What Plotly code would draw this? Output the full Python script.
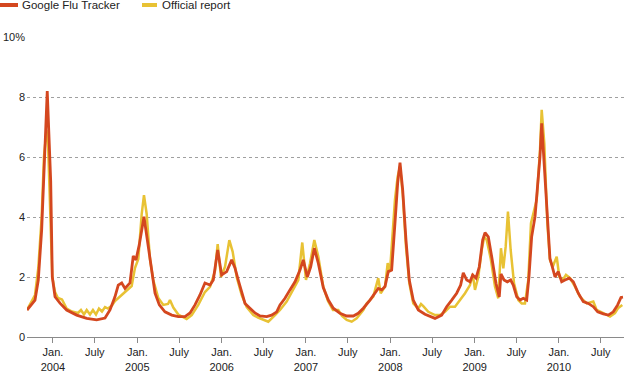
import plotly.graph_objects as go

# ---- data (decimal years, % of visits) ----
google_t = [2003.692, 2003.787, 2003.826, 2003.866, 2003.905, 2003.932, 2003.973, 2003.992,
            2004.024, 2004.083, 2004.162, 2004.281, 2004.400, 2004.518, 2004.617, 2004.676,
            2004.735, 2004.774, 2004.815, 2004.854, 2004.913, 2004.952, 2004.984, 2005.023,
            2005.079, 2005.130, 2005.170, 2005.210, 2005.261, 2005.328, 2005.408, 2005.486,
            2005.565, 2005.625, 2005.684, 2005.743, 2005.802, 2005.862, 2005.901, 2005.953,
            2006.000, 2006.060, 2006.119, 2006.158, 2006.197, 2006.238, 2006.277, 2006.336,
            2006.395, 2006.455, 2006.534, 2006.593, 2006.653, 2006.692, 2006.751, 2006.810,
            2006.870, 2006.929, 2006.968, 2007.016, 2007.056, 2007.099, 2007.146, 2007.205,
            2007.237, 2007.265, 2007.324, 2007.403, 2007.483, 2007.561, 2007.620, 2007.680,
            2007.759, 2007.818, 2007.857, 2007.898, 2007.937, 2007.976, 2008.016, 2008.055,
            2008.087, 2008.115, 2008.147, 2008.186, 2008.225, 2008.272, 2008.332, 2008.411,
            2008.470, 2008.530, 2008.609, 2008.668, 2008.728, 2008.787, 2008.834, 2008.865,
            2008.906, 2008.945, 2008.977, 2009.016, 2009.055, 2009.095, 2009.123, 2009.162,
            2009.202, 2009.253, 2009.292, 2009.312, 2009.348, 2009.387, 2009.427, 2009.458,
            2009.499, 2009.538, 2009.577, 2009.617, 2009.644, 2009.676, 2009.716, 2009.748,
            2009.775, 2009.795, 2009.826, 2009.866, 2009.893, 2009.921, 2009.953, 2009.992,
            2010.032, 2010.071, 2010.122, 2010.170, 2010.229, 2010.288, 2010.348, 2010.407,
            2010.459, 2010.526, 2010.585, 2010.644, 2010.696, 2010.735, 2010.759]
google_v = [0.90, 1.23, 1.90, 3.57, 6.30, 8.20, 5.20, 2.00,
            1.34, 1.13, 0.90, 0.73, 0.62, 0.57, 0.63, 0.90,
            1.34, 1.73, 1.80, 1.62, 1.80, 2.70, 2.57, 3.07,
            4.01, 3.00, 2.13, 1.46, 1.07, 0.84, 0.73, 0.68,
            0.68, 0.80, 1.07, 1.40, 1.80, 1.73, 1.90, 2.90,
            2.07, 2.18, 2.57, 2.30, 1.90, 1.46, 1.12, 0.96,
            0.80, 0.70, 0.68, 0.73, 0.84, 1.07, 1.29, 1.57,
            1.84, 2.23, 2.57, 2.00, 2.34, 2.96, 2.46, 1.65,
            1.40, 1.23, 0.96, 0.79, 0.70, 0.70, 0.79, 0.96,
            1.23, 1.46, 1.62, 1.57, 1.68, 2.18, 2.23, 3.79,
            5.12, 5.81, 4.90, 3.23, 1.90, 1.23, 0.90, 0.76,
            0.68, 0.62, 0.73, 1.01, 1.23, 1.46, 1.73, 2.14,
            1.90, 1.84, 2.07, 1.96, 2.34, 3.23, 3.48, 3.34,
            2.68, 1.79, 1.34, 2.10, 1.90, 1.84, 1.90, 1.73,
            1.34, 1.23, 1.29, 1.23, 2.00, 3.34, 4.01, 5.12,
            6.01, 7.12, 5.57, 3.79, 2.62, 2.34, 2.00, 2.18,
            1.84, 1.90, 1.96, 1.84, 1.46, 1.18, 1.12, 1.01,
            0.84, 0.77, 0.73, 0.84, 1.07, 1.32, 1.33]

official_t = [2003.692, 2003.787, 2003.826, 2003.866, 2003.893, 2003.923, 2003.941, 2003.973,
              2003.992, 2004.024, 2004.059, 2004.107, 2004.162, 2004.225, 2004.296, 2004.332,
              2004.368, 2004.400, 2004.439, 2004.474, 2004.510, 2004.545, 2004.581, 2004.617,
              2004.652, 2004.700, 2004.735, 2004.795, 2004.874, 2004.933, 2004.972, 2005.012,
              2005.052, 2005.079, 2005.111, 2005.150, 2005.189, 2005.249, 2005.308, 2005.364,
              2005.387, 2005.427, 2005.486, 2005.585, 2005.645, 2005.723, 2005.802, 2005.862,
              2005.921, 2005.953, 2005.992, 2006.040, 2006.091, 2006.131, 2006.178, 2006.238,
              2006.297, 2006.375, 2006.431, 2006.494, 2006.553, 2006.633, 2006.692, 2006.771,
              2006.850, 2006.909, 2006.956, 2007.000, 2007.048, 2007.099, 2007.146, 2007.205,
              2007.261, 2007.320, 2007.383, 2007.427, 2007.483, 2007.542, 2007.601, 2007.680,
              2007.720, 2007.798, 2007.857, 2007.886, 2007.937, 2007.969, 2007.996, 2008.055,
              2008.087, 2008.115, 2008.147, 2008.186, 2008.225, 2008.272, 2008.332, 2008.364,
              2008.391, 2008.450, 2008.530, 2008.589, 2008.648, 2008.708, 2008.767, 2008.826,
              2008.886, 2008.945, 2008.977, 2009.004, 2009.043, 2009.084, 2009.114, 2009.143,
              2009.190, 2009.241, 2009.280, 2009.312, 2009.340, 2009.368, 2009.395, 2009.427,
              2009.467, 2009.518, 2009.558, 2009.597, 2009.636, 2009.668, 2009.695, 2009.736,
              2009.775, 2009.795, 2009.826, 2009.862, 2009.893, 2009.926, 2009.973, 2010.004,
              2010.044, 2010.083, 2010.131, 2010.190, 2010.249, 2010.329, 2010.407, 2010.447,
              2010.526, 2010.605, 2010.664, 2010.703, 2010.751]
official_v = [0.90, 1.40, 2.30, 4.00, 6.00, 6.90, 6.50, 4.00,
              2.00, 1.50, 1.30, 1.25, 0.95, 0.85, 0.80, 0.90,
              0.75, 0.90, 0.75, 0.90, 0.75, 0.95, 0.85, 1.00,
              0.95, 1.05, 1.20, 1.35, 1.55, 1.70, 2.30, 2.60,
              4.10, 4.73, 4.10, 2.60, 1.90, 1.30, 1.07, 1.10,
              1.23, 0.98, 0.75, 0.60, 0.73, 1.07, 1.50, 1.67,
              2.20, 3.10, 2.00, 2.34, 3.23, 2.84, 2.00, 1.40,
              1.00, 0.73, 0.65, 0.57, 0.51, 0.73, 0.90, 1.18,
              1.57, 1.90, 3.15, 1.90, 2.46, 3.23, 2.68, 1.68,
              1.20, 0.90, 0.90, 0.70, 0.57, 0.51, 0.62, 0.90,
              1.12, 1.35, 1.96, 1.46, 1.68, 2.46, 2.18, 4.57,
              5.34, 5.68, 4.78, 3.00, 1.80, 1.12, 0.95, 1.10,
              1.03, 0.84, 0.73, 0.73, 0.84, 1.01, 1.01, 1.23,
              1.46, 1.73, 2.10, 1.57, 2.00, 2.90, 3.34, 3.23,
              2.62, 1.68, 1.29, 2.96, 2.29, 3.01, 4.18, 2.90,
              1.79, 1.23, 1.12, 1.12, 1.90, 3.79, 4.07, 4.57,
              6.23, 7.57, 6.46, 3.79, 2.57, 2.34, 2.68, 2.00,
              1.90, 2.07, 1.96, 1.68, 1.34, 1.12, 1.18, 0.90,
              0.80, 0.68, 0.80, 0.97, 1.07]

tick_vals = [2004.0, 2004.496, 2005.0, 2005.496, 2006.0, 2006.496, 2007.0, 2007.496,
             2008.0, 2008.496, 2009.0, 2009.496, 2010.0, 2010.496]
tick_text = ["Jan.<br>2004", "July", "Jan.<br>2005", "July", "Jan.<br>2006", "July",
             "Jan.<br>2007", "July", "Jan.<br>2008", "July", "Jan.<br>2009", "July",
             "Jan.<br>2010", "July"]
y_vals = [0, 2, 4, 6, 8, 10]
y_text = ["0", "2", "4", "6", "8", "10%"]
series_names = ["Google Flu Tracker", "Official report"]

# ---- style ----
RED = "#d4471f"
YEL = "#e8c234"
FONT = "Liberation Sans, Arial, Helvetica, sans-serif"
W, H = 624, 374
ML, MR, MT, MB = 27, 0, 37, 37

fig = go.Figure()
fig.add_trace(go.Scatter(x=official_t, y=official_v, mode="lines", name=series_names[1],
                         line=dict(color=YEL, width=2.5), showlegend=False))
fig.add_trace(go.Scatter(x=google_t, y=google_v, mode="lines", name=series_names[0],
                         line=dict(color=RED, width=2.8), showlegend=False))

pw, ph = W - ML - MR, H - MT - MB
def px(xp):
    return (xp - ML) / pw
def py(yp):
    return (H - MB - yp) / ph

# manual legend
fig.add_shape(type="line", xref="paper", yref="paper", x0=px(0), x1=px(18), y0=py(5), y1=py(5),
              line=dict(color=RED, width=4))
fig.add_shape(type="line", xref="paper", yref="paper", x0=px(142), x1=px(157), y0=py(5), y1=py(5),
              line=dict(color=YEL, width=4))
fig.add_annotation(xref="paper", yref="paper", x=px(20), y=py(5), xanchor="left", yanchor="middle",
                   text=series_names[0], showarrow=False, font=dict(size=11.5, color="#222", family=FONT))
fig.add_annotation(xref="paper", yref="paper", x=px(160), y=py(5), xanchor="left", yanchor="middle",
                   text=series_names[1], showarrow=False, font=dict(size=11.5, color="#222", family=FONT))

fig.update_layout(
    width=W, height=H,
    margin=dict(l=ML, r=MR, t=MT, b=MB, pad=0, autoexpand=False),
    paper_bgcolor="white", plot_bgcolor="white",
    font=dict(family=FONT, size=11, color="#222"),
    xaxis=dict(range=[2003.692, 2010.771], tickvals=tick_vals, ticktext=tick_text,
               automargin=False,
               showgrid=False, zeroline=False, showline=True, linecolor="#8a8a8a", linewidth=1,
               ticks="outside", ticklen=5, tickcolor="#8a8a8a", tickwidth=1,
               tickfont=dict(size=11, color="#222")),
    yaxis=dict(range=[0, 10], tickvals=y_vals, ticktext=y_text, showgrid=True,
               automargin=False,
               gridcolor="#a0a0a0", griddash="dot", gridwidth=1, zeroline=False,
               showline=False, ticks="", ticklabelstandoff=1,
               tickfont=dict(size=11, color="#222")),
)

fig.write_html("out.html", config={"displayModeBar": False},
               post_script="document.body.style.margin='0';document.body.style.overflow='hidden';")
